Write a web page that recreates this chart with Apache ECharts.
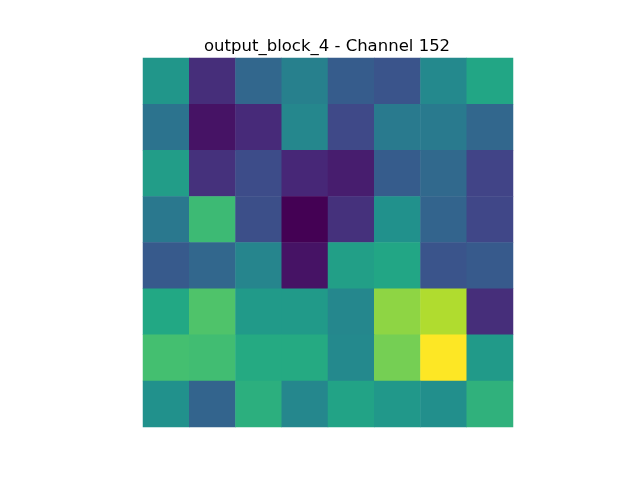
<!DOCTYPE html>
<html>
<head>
<meta charset="utf-8">
<script src="https://cdn.jsdelivr.net/npm/echarts@6/dist/echarts.min.js"></script>
<style>html,body{margin:0;padding:0;background:#fff}#c{width:640px;height:480px}</style>
</head>
<body>
<div id="c"></div>
<script>
var titleText = "output_block_4 - Channel 152";
var xCategories = ["0","1","2","3","4","5","6","7"];
var yCategories = ["0","1","2","3","4","5","6","7"];
var row0 = [0.52, 0.13, 0.33, 0.43, 0.29, 0.26, 0.47, 0.59];
var row1 = [0.38, 0.05, 0.12, 0.46, 0.22, 0.41, 0.41, 0.33];
var row2 = [0.55, 0.14, 0.23, 0.11, 0.08, 0.29, 0.34, 0.20];
var row3 = [0.40, 0.68, 0.24, 0.00, 0.14, 0.50, 0.32, 0.21];
var row4 = [0.28, 0.33, 0.45, 0.05, 0.56, 0.59, 0.26, 0.28];
var row5 = [0.60, 0.72, 0.54, 0.54, 0.46, 0.83, 0.88, 0.13];
var row6 = [0.70, 0.69, 0.61, 0.61, 0.47, 0.79, 1.00, 0.54];
var row7 = [0.50, 0.32, 0.63, 0.46, 0.58, 0.53, 0.49, 0.64];
var rows = [row0,row1,row2,row3,row4,row5,row6,row7];
var viridis = ["#440154","#482475","#414487","#355f8d","#2a788e","#21918c","#22a884","#44bf70","#7ad151","#bddf26","#fde725"];

var data = [];
rows.forEach(function(r, i){ r.forEach(function(v, j){ data.push([j, i, v]); }); });

var chart = echarts.init(document.getElementById('c'));
chart.setOption({
  animation: false,
  backgroundColor: '#ffffff',
  title: {
    text: titleText, left: 199, top: 33,
    textStyle: { fontFamily: 'DejaVu Sans', fontSize: 16.5, fontWeight: 'normal', color: '#000' }
  },
  grid: { left: 143, top: 58, width: 370, height: 369 },
  xAxis: { type: 'category', data: xCategories, show: false },
  yAxis: { type: 'category', data: yCategories, inverse: true, show: false },
  visualMap: { show: false, min: 0, max: 1, dimension: 2, inRange: { color: viridis } },
  series: [{ type: 'heatmap', data: data, itemStyle: { borderWidth: 0 }, emphasis: { disabled: true } }]
});
</script>
</body>
</html>
